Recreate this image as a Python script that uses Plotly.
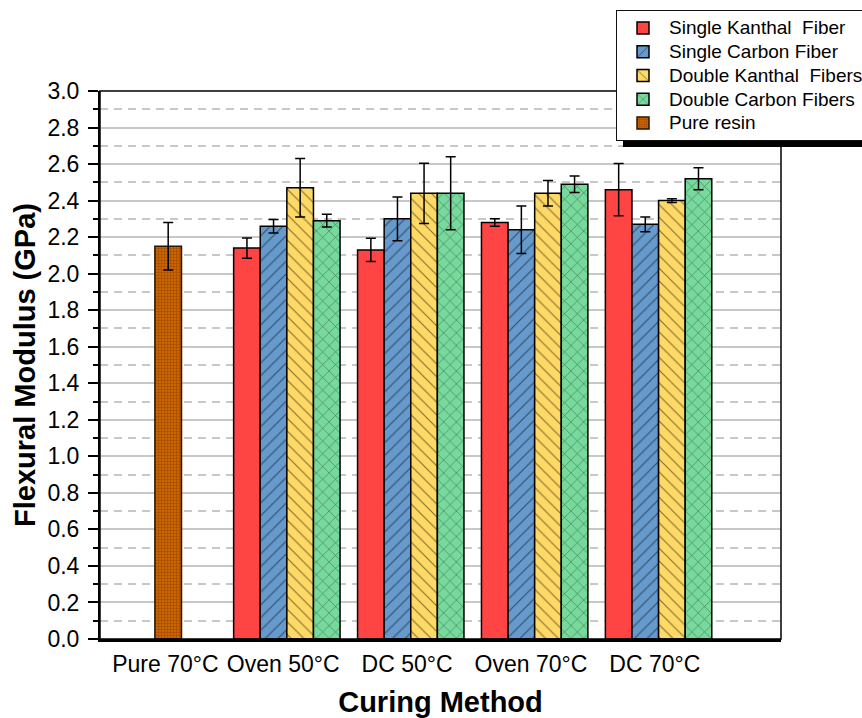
import plotly.graph_objects as go

# ---- data ----
categories = ["Pure 70°C", "Oven 50°C", "DC 50°C", "Oven 70°C", "DC 70°C"]
fiber_categories = ["Oven 50°C", "DC 50°C", "Oven 70°C", "DC 70°C"]
pure_categories = ["Pure 70°C"]

series_names = ["Single Kanthal  Fiber", "Single Carbon Fiber",
                "Double Kanthal  Fibers", "Double Carbon Fibers", "Pure resin"]

single_kanthal = [2.14, 2.13, 2.28, 2.46]
single_kanthal_err = [0.055, 0.064, 0.02, 0.143]
single_carbon = [2.26, 2.30, 2.24, 2.27]
single_carbon_err = [0.037, 0.12, 0.13, 0.04]
double_kanthal = [2.47, 2.44, 2.44, 2.40]
double_kanthal_err = [0.16, 0.165, 0.07, 0.01]
double_carbon = [2.29, 2.44, 2.49, 2.52]
double_carbon_err = [0.035, 0.20, 0.045, 0.06]
pure_resin = [2.15]
pure_resin_err = [0.13]

y_ticks = [round(0.2 * i, 1) for i in range(16)]

# ---- style ----
FONT = "Liberation Sans, Arial, sans-serif"
W = 0.2147  # bar width in category units

# plot area in pixels
L, R, T, B = 100, 781, 91, 639
FIG_W, FIG_H = 862, 718

cat_index = {c: i for i, c in enumerate(categories)}
fiber_x = [cat_index[c] for c in fiber_categories]
pure_x = [cat_index[c] for c in pure_categories]
label_shift = [0.02, -0.03, -0.03, -0.03, -0.03]
tick_positions = [cat_index[c] + s for c, s in zip(categories, label_shift)]


def err(vals):
    return dict(type="data", array=vals, visible=True, color="black",
                thickness=1.5, width=5)


def pat(shape, bg, size=9, solidity=0.12, fg="black"):
    return dict(shape=shape, bgcolor=bg, fgcolor=fg, size=size,
                solidity=solidity, fillmode="overlay")


def legend_label(s):
    return f"<span style='font-size:19px'>{s}</span>"


fig = go.Figure()

fig.add_trace(go.Bar(
    name=legend_label(series_names[0]), x=fiber_x, y=single_kanthal,
    error_y=err(single_kanthal_err), width=W, offset=-2 * W,
    marker=dict(color="#FF4444", line=dict(color="black", width=1.5)),
))
fig.add_trace(go.Bar(
    name=legend_label(series_names[1]), x=fiber_x, y=single_carbon,
    error_y=err(single_carbon_err), width=W, offset=-W,
    marker=dict(color="#6699CC", line=dict(color="black", width=1.5),
                pattern=pat("/", "#6699CC")),
))
fig.add_trace(go.Bar(
    name=legend_label(series_names[2]), x=fiber_x, y=double_kanthal,
    error_y=err(double_kanthal_err), width=W, offset=0,
    marker=dict(color="#FFD966", line=dict(color="black", width=1.5),
                pattern=pat("\\", "#FFD966")),
))
fig.add_trace(go.Bar(
    name=legend_label(series_names[3]), x=fiber_x, y=double_carbon,
    error_y=err(double_carbon_err), width=W, offset=W,
    marker=dict(color="#77D99C", line=dict(color="black", width=1.5),
                pattern=pat("x", "#77D99C")),
))
fig.add_trace(go.Bar(
    name=legend_label(series_names[4]), x=pure_x, y=pure_resin,
    error_y=err(pure_resin_err), width=W, offset=-0.065,
    marker=dict(color="#CC6400", line=dict(color="#2a1500", width=1.5),
                pattern=pat("+", "#CC6400", size=3, solidity=0.35, fg="#6A3000")),
))

pw, ph = R - L, B - T


def px_x(p):
    return (p - L) / pw


def px_y(p):
    return (B - p) / ph


fig.update_layout(
    width=FIG_W, height=FIG_H,
    margin=dict(l=L, r=FIG_W - R, t=T, b=FIG_H - B, autoexpand=False),
    paper_bgcolor="white", plot_bgcolor="white",
    font=dict(family=FONT, color="black", size=23),
    barmode="overlay",
    showlegend=True,
    legend=dict(
        xref="container", yref="container",
        x=616 / FIG_W, y=1 - 10 / FIG_H, xanchor="left", yanchor="top",
        bgcolor="white", bordercolor="#111111", borderwidth=1,
        font=dict(family=FONT, size=16, color="black"),
        itemwidth=42, tracegroupgap=0, traceorder="normal",
    ),
    xaxis=dict(
        range=[-0.508, 4.988],
        tickmode="array", tickvals=tick_positions, ticktext=categories,
        showline=True, linecolor="black", linewidth=3,
        ticks="", showgrid=False, zeroline=False,
        tickfont=dict(family=FONT, size=23),
        ticklabelstandoff=2,
        title=dict(text="<b>Curing Method</b>",
                   font=dict(family=FONT, size=29), standoff=24),
    ),
    yaxis=dict(
        range=[0, 3.0], tickmode="array", tickvals=y_ticks,
        ticktext=[f"{v:.1f}" for v in y_ticks],
        showline=True, linecolor="black", linewidth=2,
        ticks="outside", ticklen=10, tickwidth=1.5, tickcolor="black",
        showgrid=True, gridcolor="#C8C8C8", gridwidth=1.5,
        zeroline=False,
        tickfont=dict(family=FONT, size=23),
        ticklabelstandoff=4,
        minor=dict(dtick=0.1, ticks="outside", ticklen=5, tickwidth=1.5,
                   tickcolor="black", showgrid=True, gridcolor="#C8C8C8",
                   gridwidth=1.5, griddash="8px,6px"),
        title=dict(text="<b>Flexural Modulus (GPa)</b>",
                   font=dict(family=FONT, size=29), standoff=3),
    ),
    shapes=[
        # frame (top and right borders)
        dict(type="rect", xref="paper", yref="paper", x0=0, x1=1, y0=0, y1=1,
             line=dict(color="black", width=1.5), layer="above"),
        # legend drop shadow
        dict(type="rect", xref="paper", yref="paper",
             x0=px_x(623), x1=px_x(880), y0=px_y(147), y1=px_y(20),
             fillcolor="black", line=dict(width=0), layer="above"),
    ],
)

fig.write_html("out.html")
